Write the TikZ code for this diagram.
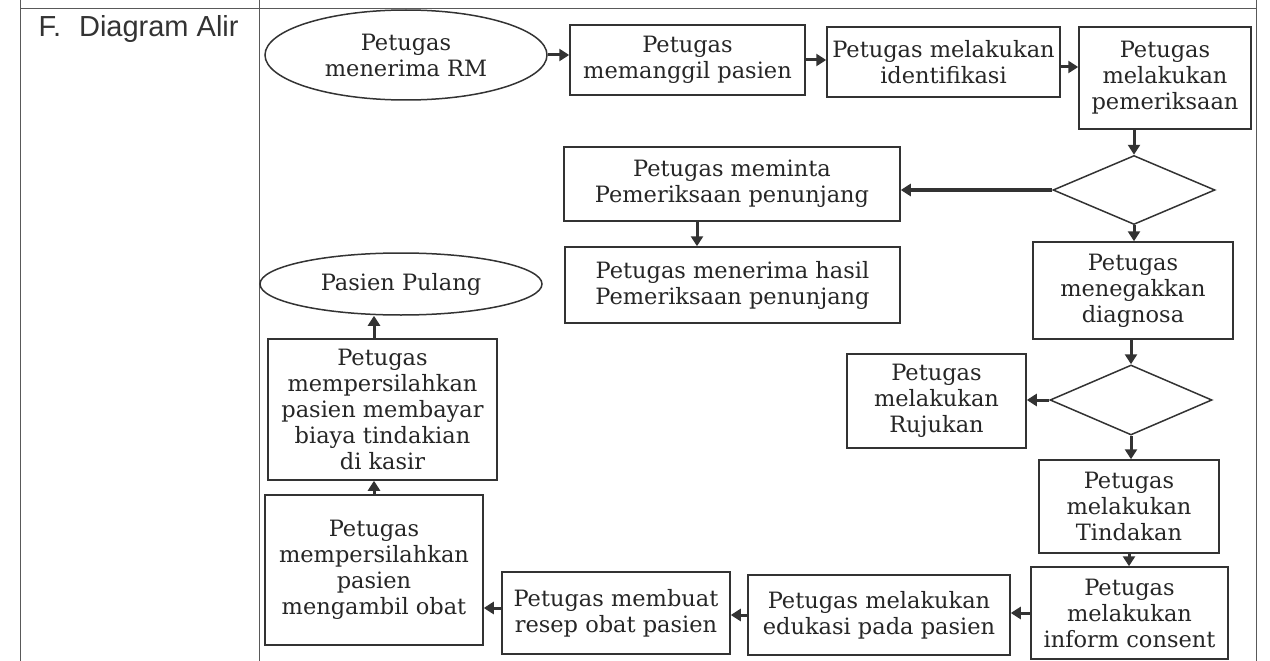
\documentclass[tikz,border=0pt]{standalone}
\usepackage{fontspec}
\setmainfont{DejaVu Serif}
\newfontfamily\judulfont{Liberation Sans}
\usetikzlibrary{shapes.geometric,arrows.meta}
\tikzset{
  kotak/.style={draw=black!80, line width=1.5pt, rectangle, align=center, inner sep=0pt,
    text=black!85, font=\fontsize{22.5}{26}\selectfont},
  oval/.style={kotak, ellipse},
  belah/.style={draw=black!80, line width=1.5pt, diamond, inner sep=0pt},
  panah/.style={draw=black!80, line width=3pt, -{Triangle[length=10pt,width=12pt]}},
  tabel/.style={draw=black!65, line width=1pt}
}
\begin{document}
\begin{tikzpicture}[x=1pt,y=-1pt]
		\useasboundingbox (0,0) rectangle (1270,661);
		\draw[tabel] (20,9) -- (1256,9);
		\draw[tabel] (20,0) -- (20,661);
		\draw[tabel] (259,0) -- (259,661);
		\draw[tabel] (1256,0) -- (1256,661);
		\node[font=\judulfont\fontsize{29}{32}\selectfont, text=black!80, anchor=base west] (judul) at (35,37) {F.\hspace{18pt}Diagram Alir};
		%%%
		\node[oval, minimum width=282pt, minimum height=90pt] (terima) at (406,55) {Petugas\\menerima RM};
		\node[kotak, minimum width=235pt, minimum height=70pt] (panggil) at (687.5,60) {Petugas\\memanggil pasien};
		\node[kotak, minimum width=233pt, minimum height=70pt] (identif) at (943.5,62) {Petugas melakukan\\identifikasi};
		\node[kotak, minimum width=172pt, minimum height=102pt] (periksa) at (1165,78) {Petugas\\melakukan\\pemeriksaan};
		%%%
		\node[belah, minimum width=162pt, minimum height=69pt] (pilih1) at (1134,190) {};
		\node[kotak, minimum width=336pt, minimum height=74pt] (minta) at (732,184) {Petugas meminta\\Pemeriksaan penunjang};
		\node[kotak, minimum width=335pt, minimum height=76pt] (hasil) at (732.5,285) {Petugas menerima hasil\\Pemeriksaan penunjang};
		\node[kotak, minimum width=200pt, minimum height=97pt] (diagnosa) at (1133,290.5) {Petugas\\menegakkan\\diagnosa};
		%%%
		\node[belah, minimum width=162pt, minimum height=70pt] (pilih2) at (1131,400) {};
		\node[kotak, minimum width=179pt, minimum height=94pt] (rujuk) at (936.5,401) {Petugas\\melakukan\\Rujukan};
		\node[kotak, minimum width=180pt, minimum height=93pt] (tindak) at (1129,506.5) {Petugas\\melakukan\\Tindakan};
		\node[kotak, minimum width=197pt, minimum height=92pt] (inform) at (1129.5,613) {Petugas\\melakukan\\inform consent};
		%%%
		\node[kotak, minimum width=262pt, minimum height=80pt] (edukasi) at (879,615) {Petugas melakukan\\edukasi pada pasien};
		\node[kotak, minimum width=228pt, minimum height=82pt] (resep) at (616,613) {Petugas membuat\\resep obat pasien};
		\node[kotak, minimum width=218pt, minimum height=150pt] (obat) at (374,570) {Petugas\\mempersilahkan\\pasien\\mengambil obat};
		\node[kotak, minimum width=229pt, minimum height=141pt] (bayar) at (382.5,409.5) {Petugas\\mempersilahkan\\pasien membayar\\biaya tindakian\\di kasir};
		\node[oval, minimum width=282pt, minimum height=62pt] (pulang) at (401,284) {Pasien Pulang};
		%%%
		\draw[panah] (terima.east) -- (terima.east -| panggil.west);
		\draw[panah] (panggil.east) -- (panggil.east -| identif.west);
		\draw[panah] ([yshift=-5pt]identif.east) -- ([yshift=-5pt]identif.east -| periksa.west);
		\draw[panah] (pilih1.north |- periksa.south) -- (pilih1.north);
		\draw[panah, line width=3.6pt] (pilih1.west) -- (pilih1.west -| minta.east);
		\draw[panah] ([xshift=-35pt]minta.south) -- ([xshift=-35pt]minta.south |- hasil.north);
		\draw[panah] (pilih1.south) -- (pilih1.south |- diagnosa.north);
		\draw[panah] (pilih2.north |- diagnosa.south) -- (pilih2.north);
		\draw[panah] (pilih2.west) -- (pilih2.west -| rujuk.east);
		\draw[panah] (pilih2.south) -- (pilih2.south |- tindak.north);
		\draw[panah] (tindak.south) -- (tindak.south |- inform.north);
		\draw[panah] (inform.west) -- (inform.west -| edukasi.east);
		\draw[panah] (edukasi.west) -- (edukasi.west -| resep.east);
		\draw[panah] ([yshift=5pt]resep.west) -- ([yshift=5pt]resep.west -| obat.east);
		\draw[panah] (obat.north) -- (obat.north |- bayar.south);
		\draw[panah] (bayar.north -| obat.north) -- (obat.north |- pulang.south);
\end{tikzpicture}
\end{document}
